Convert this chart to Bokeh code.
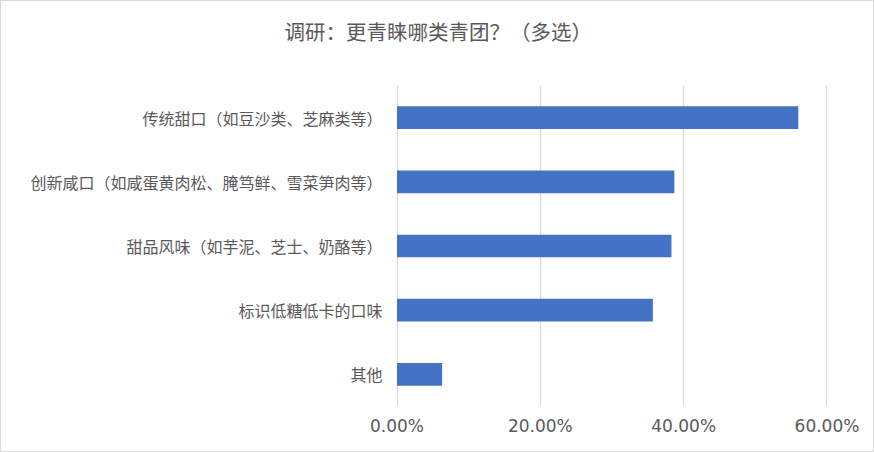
from bokeh.plotting import figure
from bokeh.models import NumeralTickFormatter, FixedTicker, Range1d, FactorRange
from bokeh.embed import file_html
from bokeh.resources import INLINE

title_text = "调研：更青睐哪类青团？（多选）"
categories = [
    "传统甜口（如豆沙类、芝麻类等）",
    "创新咸口（如咸蛋黄肉松、腌笃鲜、雪菜笋肉等）",
    "甜品风味（如芋泥、芝士、奶酪等）",
    "标识低糖低卡的口味",
    "其他",
]
values = [0.560, 0.387, 0.383, 0.357, 0.063]
x_ticks = [0, 0.2, 0.4, 0.6]

FONT = "Noto Sans CJK SC"
GRAY = "#595959"

p = figure(
    width=874, height=452,
    y_range=FactorRange(factors=list(reversed(categories))),
    x_range=Range1d(-0.0021, 0.6021),
    output_backend="svg", toolbar_location=None,
    min_border_left=394, min_border_right=47, min_border_top=84, min_border_bottom=47,
    title=title_text + "\n",
)
p.hbar(y=categories, right=values, height=0.354, left=0, color="#4472C4", line_color=None)

p.title.align = "left"
p.title.offset = -111
p.title.standoff = 19
p.title.text_line_height = 1.0
p.title.text_font = FONT
p.title.text_font_size = "20.5px"
p.title.text_font_style = "normal"
p.title.text_color = GRAY

p.outline_line_color = None
p.ygrid.grid_line_color = None
p.xgrid.grid_line_color = "#d9d9d9"
p.xgrid.grid_line_width = 1.3

p.xaxis.ticker = FixedTicker(ticks=x_ticks)
p.xaxis.formatter = NumeralTickFormatter(format="0.00%")
for ax in (p.xaxis, p.yaxis):
    ax.axis_line_color = None
    ax.major_tick_line_color = None
    ax.minor_tick_line_color = None
    ax.major_tick_out = 0
    ax.major_tick_in = 0
    ax.major_label_text_color = GRAY
p.xaxis.major_label_text_font = "DejaVu Sans"
p.xaxis.major_label_text_font_size = "17px"
p.xaxis.major_label_standoff = 9
p.yaxis.major_label_text_font = FONT
p.yaxis.major_label_text_font_size = "16px"
p.yaxis.major_label_standoff = 13

p.styles = {"border": "1px solid #d9d9d9", "box-sizing": "border-box"}

open("out.html", "w").write(file_html(p, INLINE))
